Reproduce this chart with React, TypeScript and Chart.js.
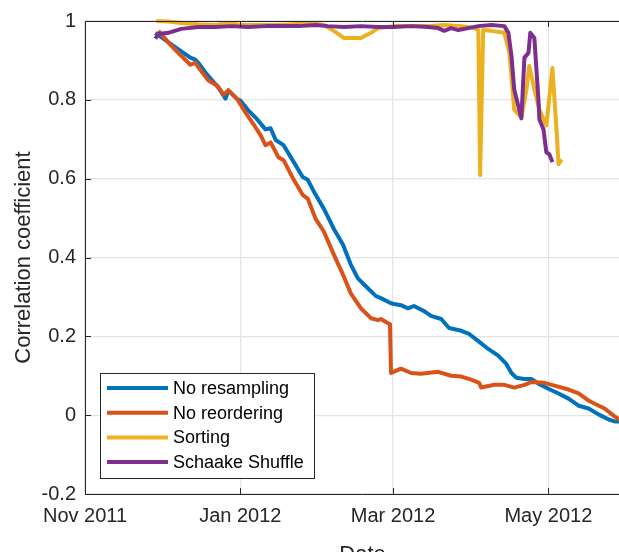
import React, { useEffect, useRef } from "react";
import { Chart, registerables } from "chart.js";

Chart.register(...registerables);

// x values are days since 1 Nov 2011
const xTickDays = [0, 61, 121, 182];
const xTickLabels = ["Nov 2011", "Jan 2012", "Mar 2012", "May 2012"];
const xAxisEndDay = 218;

const seriesLabels = ["No resampling", "No reordering", "Sorting", "Schaake Shuffle"];
const seriesColors = ["#0072BD", "#D95319", "#EDB120", "#7E2F8E"];

const noResDays = [27.6, 34.7, 41.4, 43.3, 44.5, 47.3, 50.0, 52.4, 55.2, 56.3, 59.9, 61.1, 63.8, 67.0, 70.9, 72.9, 74.9, 78.0, 82.0, 85.5, 87.5, 90.6, 93.8, 97.7, 101.3, 104.4, 107.2, 111.1, 114.3, 116.2, 120.2, 121.4, 124.1, 126.9, 129.2, 133.2, 135.9, 139.9, 143.0, 147.8, 150.9, 154.5, 158.4, 162.3, 165.5, 167.5, 169.4, 172.6, 175.3, 178.1, 182.0, 186.0, 189.9, 193.9, 197.8, 201.7, 205.7, 208.0, 210.4];
const noResVals = [0.970, 0.937, 0.907, 0.902, 0.894, 0.869, 0.849, 0.831, 0.803, 0.824, 0.801, 0.798, 0.776, 0.755, 0.725, 0.728, 0.698, 0.685, 0.642, 0.604, 0.597, 0.559, 0.524, 0.473, 0.433, 0.382, 0.347, 0.322, 0.302, 0.297, 0.284, 0.282, 0.279, 0.271, 0.277, 0.264, 0.252, 0.244, 0.221, 0.214, 0.206, 0.188, 0.168, 0.151, 0.130, 0.107, 0.095, 0.092, 0.092, 0.080, 0.067, 0.055, 0.042, 0.024, 0.017, 0.002, -0.011, -0.016, -0.016];

const noReorDays = [28.8, 33.5, 37.4, 41.4, 43.3, 46.1, 48.5, 52.0, 54.4, 56.3, 59.9, 63.0, 66.2, 69.0, 70.9, 72.9, 76.0, 78.0, 82.0, 85.5, 87.5, 90.6, 93.8, 97.7, 101.3, 104.4, 108.4, 112.3, 115.1, 116.2, 119.0, 119.8, 120.2, 124.1, 128.1, 132.0, 138.7, 143.8, 147.8, 151.7, 154.8, 155.6, 160.8, 164.7, 168.6, 172.6, 175.3, 180.5, 184.4, 189.9, 193.9, 197.8, 200.2, 204.1, 208.0, 210.4];
const noReorVals = [0.975, 0.940, 0.914, 0.889, 0.894, 0.869, 0.849, 0.836, 0.813, 0.824, 0.801, 0.768, 0.738, 0.710, 0.685, 0.692, 0.654, 0.647, 0.597, 0.559, 0.549, 0.498, 0.466, 0.408, 0.357, 0.309, 0.271, 0.246, 0.241, 0.244, 0.233, 0.231, 0.107, 0.118, 0.107, 0.105, 0.110, 0.100, 0.098, 0.090, 0.082, 0.070, 0.077, 0.077, 0.070, 0.077, 0.084, 0.082, 0.075, 0.065, 0.055, 0.037, 0.029, 0.017, -0.003, -0.013];

const sortDays = [28.0, 32.7, 37.8, 44.5, 51.2, 56.3, 61.5, 68.2, 74.9, 81.2, 88.7, 93.8, 97.7, 101.7, 108.4, 112.3, 115.1, 121.4, 128.1, 134.8, 141.1, 147.8, 152.9, 154.5, 155.2, 156.4, 159.6, 164.7, 166.7, 168.6, 171.4, 173.4, 174.5, 176.5, 178.5, 181.2, 183.6, 185.2, 186.0, 187.2];
const sortVals = [1.0, 0.999, 0.995, 0.992, 0.990, 0.995, 0.990, 0.990, 0.990, 0.992, 0.995, 0.990, 0.975, 0.957, 0.957, 0.970, 0.982, 0.987, 0.987, 0.987, 0.990, 0.987, 0.982, 0.977, 0.609, 0.977, 0.975, 0.970, 0.919, 0.775, 0.755, 0.826, 0.886, 0.826, 0.775, 0.735, 0.881, 0.725, 0.637, 0.649];

const schDays = [27.6, 28.8, 32.7, 37.8, 44.5, 51.2, 57.5, 64.2, 70.9, 77.2, 83.9, 90.6, 95.4, 101.7, 108.4, 115.1, 121.4, 128.1, 134.8, 138.7, 141.1, 143.8, 146.6, 150.5, 154.5, 159.6, 164.7, 166.3, 167.5, 168.6, 171.4, 172.6, 174.2, 174.9, 176.5, 178.1, 178.5, 180.1, 181.2, 182.4, 183.6];
const schVals = [0.955, 0.967, 0.970, 0.980, 0.985, 0.985, 0.987, 0.985, 0.987, 0.987, 0.987, 0.990, 0.987, 0.985, 0.987, 0.985, 0.985, 0.987, 0.985, 0.982, 0.975, 0.982, 0.977, 0.982, 0.987, 0.990, 0.987, 0.970, 0.912, 0.826, 0.753, 0.907, 0.919, 0.970, 0.957, 0.801, 0.750, 0.725, 0.667, 0.662, 0.642];

const AXIS = "#262626";
const FONT = "'Liberation Sans', Arial, Helvetica, sans-serif";

const zip = (xs: number[], ys: number[]) => xs.map((x, i) => ({ x, y: ys[i] }));

const frameAndLegend = {
  id: "frameAndLegend",
  afterDatasetsDraw(chart: any) {
    const { ctx, chartArea: ca, scales } = chart;
    ctx.save();
    ctx.strokeStyle = AXIS;
    ctx.lineWidth = 1;
    // top frame line
    ctx.beginPath();
    ctx.moveTo(ca.left, ca.top + 0.5);
    ctx.lineTo(ca.right, ca.top + 0.5);
    ctx.stroke();
    // inward tick marks
    const tl = 6;
    ctx.beginPath();
    scales.y.ticks.forEach((t: any) => {
      const y = Math.round(scales.y.getPixelForValue(t.value)) + 0.5;
      ctx.moveTo(ca.left, y);
      ctx.lineTo(ca.left + tl, y);
    });
    scales.x.ticks.forEach((t: any) => {
      const x = Math.round(scales.x.getPixelForValue(t.value)) + 0.5;
      ctx.moveTo(x, ca.bottom);
      ctx.lineTo(x, ca.bottom - tl);
      ctx.moveTo(x, ca.top);
      ctx.lineTo(x, ca.top + tl);
    });
    ctx.stroke();

    // legend
    const bx = ca.left + 15;
    const bw = 214;
    const bh = 105;
    const by = ca.bottom - 16 - bh;
    ctx.fillStyle = "#ffffff";
    ctx.fillRect(bx, by, bw, bh);
    ctx.strokeStyle = AXIS;
    ctx.lineWidth = 1;
    ctx.strokeRect(bx + 0.5, by + 0.5, bw, bh);
    ctx.font = `18px ${FONT}`;
    ctx.textBaseline = "middle";
    ctx.textAlign = "left";
    seriesLabels.forEach((lab, i) => {
      const y = by + 15 + i * 24.7;
      ctx.strokeStyle = seriesColors[i];
      ctx.lineWidth = 4;
      ctx.beginPath();
      ctx.moveTo(bx + 7, y);
      ctx.lineTo(bx + 68, y);
      ctx.stroke();
      ctx.fillStyle = "#000000";
      ctx.fillText(lab, bx + 73, y + 1);
    });
    ctx.restore();
  },
};

export default function App() {
  const ref = useRef<HTMLCanvasElement | null>(null);
  useEffect(() => {
    if (!ref.current) return;
    const seriesData = [
      zip(noResDays, noResVals),
      zip(noReorDays, noReorVals),
      zip(sortDays, sortVals),
      zip(schDays, schVals),
    ];
    const chart = new Chart(ref.current, {
      type: "line",
      data: {
        datasets: seriesData.map((d, i) => ({
          label: seriesLabels[i],
          data: d,
          borderColor: seriesColors[i],
          backgroundColor: seriesColors[i],
          borderWidth: 4,
          pointRadius: 0,
          tension: 0,
          fill: false,
          order: 3 - i,
          clip: 6,
          borderJoinStyle: "round" as const,
        })),
      },
      options: {
        animation: false,
        responsive: true,
        maintainAspectRatio: false,
        layout: { padding: { top: 18, right: 10, left: 0, bottom: 0 } },
        plugins: { legend: { display: false }, tooltip: { enabled: false } },
        scales: {
          x: {
            type: "linear",
            min: 0,
            max: xAxisEndDay,
            afterFit: (s: any) => { s.height = 76; },
            afterBuildTicks: (s: any) => { s.ticks = xTickDays.map((v) => ({ value: v })); },
            ticks: {
              callback: (v: any) => { const k = xTickDays.indexOf(Number(v)); return k >= 0 ? xTickLabels[k] : ""; },
              font: { family: FONT, size: 20 },
              color: AXIS,
              padding: 10,
              maxRotation: 0,
              autoSkip: false,
            },
            grid: { color: "#e4e4e4", lineWidth: 1.2, drawTicks: false },
            border: { display: true, color: AXIS, width: 1 },
            title: { display: true, text: "Date", font: { family: FONT, size: 22 }, color: AXIS, padding: { top: 0, bottom: 2 } },
          },
          y: {
            min: -0.2,
            max: 1,
            afterFit: (s: any) => { s.width = 85; },
            ticks: {
              stepSize: 0.2,
              callback: (v: any) => String(Math.round(Number(v) * 10) / 10),
              font: { family: FONT, size: 20 },
              color: AXIS,
              padding: 9,
            },
            grid: { color: "#e4e4e4", lineWidth: 1.2, drawTicks: false },
            border: { display: true, color: AXIS, width: 1 },
            title: { display: true, text: "Correlation coefficient", font: { family: FONT, size: 22 }, color: AXIS, padding: { top: 11, bottom: 0 } },
          },
        },
      },
      plugins: [frameAndLegend],
    });
    return () => chart.destroy();
  }, []);

  return (
    <div style={{ position: "fixed", left: 0, top: 0, width: 619, height: 552, overflow: "hidden", background: "#ffffff" }}>
      <div style={{ position: "relative", width: 650, height: 570 }}>
        <canvas ref={ref} />
      </div>
    </div>
  );
}
